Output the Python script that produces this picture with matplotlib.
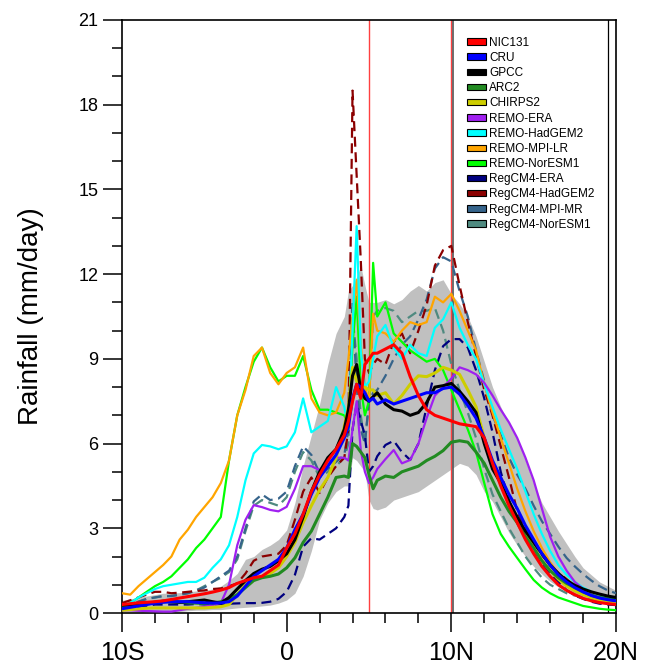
import numpy as np
import matplotlib
matplotlib.use("Agg")
import matplotlib.pyplot as plt
from matplotlib.patches import Patch

plt.rcParams['font.family'] = ['Liberation Sans', 'DejaVu Sans']

# latitude (deg, negative = S)
lat = [-10, -9.5, -9, -8.5, -8, -7.5, -7, -6.5, -6, -5.5, -5, -4.5, -4, -3.5,
       -3, -2.5, -2, -1.5, -1, -0.5,
       0, 0.5, 1, 1.5, 2, 2.5, 3, 3.5, 3.75, 4, 4.25, 4.5, 4.75, 5, 5.25, 5.5,
       6, 6.5, 7, 7.5, 8, 8.5, 9, 9.5, 10, 10.5, 11, 11.5, 12, 12.5, 13, 13.5,
       14, 14.5, 15, 15.5, 16, 16.5, 17, 17.5, 18, 18.5, 19, 19.5, 20]

# observations
nic131 = [0.30, 0.33, 0.36, 0.38, 0.40, 0.43, 0.48, 0.53, 0.58, 0.63, 0.68, 0.74, 0.81, 0.90, 1.05, 1.15, 1.25, 1.30, 1.50, 1.70,
          2.30, 2.80, 3.50, 4.30, 4.90, 5.40, 5.80, 6.30, 6.80, 7.50, 8.10, 7.60, 8.80, 9.00, 9.20, 9.20,
          9.35, 9.50, 9.20, 8.37, 7.70, 7.20, 7.00, 6.90, 6.80, 6.70, 6.65, 6.60, 6.20, 5.30, 4.50, 3.80, 3.20, 2.60, 2.10,
          1.65, 1.30, 1.00, 0.80, 0.65, 0.52, 0.43, 0.37, 0.33, 0.30]
cru = [0.15, 0.20, 0.25, 0.30, 0.35, 0.38, 0.40, 0.40, 0.40, 0.38, 0.36, 0.35, 0.36, 0.40, 0.60, 0.95, 1.30, 1.50, 1.70, 1.90,
       2.30, 2.95, 3.50, 4.20, 4.80, 5.20, 5.60, 6.20, 6.60, 7.60, 8.10, 8.00, 7.80, 7.50, 7.60, 7.40,
       7.55, 7.40, 7.50, 7.60, 7.70, 7.80, 7.80, 7.95, 8.00, 7.75, 7.35, 6.90, 6.20, 5.40, 4.80, 4.20, 3.70, 3.10, 2.60,
       2.10, 1.70, 1.35, 1.10, 0.90, 0.75, 0.62, 0.53, 0.47, 0.43]
gpcc = [0.28, 0.30, 0.33, 0.35, 0.38, 0.42, 0.40, 0.38, 0.40, 0.43, 0.46, 0.40, 0.35, 0.55, 0.85, 1.15, 1.40, 1.55, 1.65, 1.85,
        2.10, 2.60, 3.40, 4.30, 5.00, 5.50, 5.80, 6.50, 7.20, 8.40, 8.80, 7.90, 7.60, 7.50, 7.66, 7.80,
        7.40, 7.20, 7.15, 7.00, 7.10, 7.45, 8.00, 8.05, 8.13, 7.85, 7.50, 7.10, 6.00, 5.10, 4.60, 3.95, 3.40, 2.90, 2.50,
        2.10, 1.70, 1.40, 1.15, 0.98, 0.85, 0.75, 0.67, 0.60, 0.55]
arc2 = [0.20, 0.25, 0.30, 0.35, 0.38, 0.40, 0.40, 0.38, 0.36, 0.35, 0.34, 0.35, 0.40, 0.50, 0.65, 0.90, 1.15, 1.25, 1.30, 1.38,
        1.60, 1.95, 2.50, 2.90, 3.50, 4.10, 4.80, 4.85, 4.80, 6.00, 5.90, 5.70, 5.50, 4.90, 4.40, 4.70,
        4.85, 4.80, 5.00, 5.10, 5.20, 5.40, 5.55, 5.75, 6.05, 6.10, 6.05, 5.70, 5.30, 4.70, 4.10, 3.60, 3.20, 2.70, 2.30,
        1.85, 1.50, 1.25, 1.05, 0.90, 0.75, 0.63, 0.55, 0.50, 0.46]
chirps2 = [0.10, 0.12, 0.15, 0.17, 0.18, 0.18, 0.18, 0.18, 0.18, 0.18, 0.18, 0.20, 0.22, 0.30, 0.65, 1.00, 1.20, 1.30, 1.40, 1.60,
           2.00, 2.50, 3.20, 3.80, 4.36, 4.80, 5.50, 6.60, 7.30, 8.70, 8.20, 7.70, 8.00, 7.90, 7.90, 7.70,
           7.80, 7.40, 7.70, 8.10, 8.40, 8.37, 8.50, 8.70, 8.60, 8.45, 7.90, 7.30, 6.20, 5.20, 4.60, 3.90, 3.30, 2.80, 2.30,
           1.85, 1.50, 1.20, 0.95, 0.78, 0.65, 0.55, 0.48, 0.43, 0.40]

# models
remo_era = [0.10, 0.10, 0.08, 0.07, 0.06, 0.05, 0.05, 0.10, 0.15, 0.18, 0.22, 0.28, 0.35, 1.00, 2.40, 3.30, 3.82, 3.75, 3.65, 3.60,
            3.76, 4.40, 5.20, 5.20, 5.06, 5.35, 5.50, 5.50, 5.40, 6.50, 7.50, 5.77, 5.00, 4.60, 4.80, 5.10,
            5.45, 5.77, 5.30, 5.42, 6.00, 6.90, 7.70, 8.00, 8.30, 8.70, 8.60, 8.45, 8.15, 7.70, 7.20, 6.75, 6.20, 5.50, 4.70,
            3.70, 2.70, 2.00, 1.50, 1.10, 0.85, 0.65, 0.52, 0.45, 0.40]
remo_hadgem2 = [0.25, 0.35, 0.55, 0.70, 0.85, 0.95, 1.00, 1.05, 1.10, 1.10, 1.25, 1.60, 1.90, 2.40, 3.40, 4.70, 5.65, 5.95, 5.90, 5.80,
                5.90, 6.40, 7.60, 6.40, 6.60, 6.80, 8.00, 7.30, 6.50, 10.00, 13.70, 9.30, 8.00, 8.20, 9.00, 9.80,
                10.20, 9.40, 9.00, 9.50, 9.20, 9.10, 10.10, 10.40, 11.00, 10.10, 9.50, 9.00, 8.10, 7.30, 6.50, 5.80, 5.10, 4.30, 3.50,
                2.80, 2.20, 1.70, 1.35, 1.10, 0.90, 0.75, 0.65, 0.55, 0.50]
remo_mpi_lr = [0.70, 0.65, 0.95, 1.20, 1.45, 1.70, 2.00, 2.60, 2.95, 3.40, 3.75, 4.10, 4.60, 5.40, 7.00, 7.90, 9.10, 9.40, 8.50, 8.10,
               8.50, 8.70, 9.40, 7.60, 7.10, 7.00, 7.10, 7.80, 9.00, 10.50, 11.80, 9.50, 8.00, 7.50, 10.60, 10.00,
               9.90, 9.60, 10.00, 10.30, 10.20, 10.30, 11.20, 11.00, 11.30, 10.70, 10.00, 9.30, 8.10, 7.10, 6.20, 5.30, 4.40, 3.60, 2.90,
               2.30, 1.80, 1.40, 1.10, 0.85, 0.70, 0.55, 0.45, 0.40, 0.35]
remo_noresm1 = [0.20, 0.35, 0.55, 0.75, 0.95, 1.10, 1.30, 1.60, 1.90, 2.30, 2.60, 3.00, 3.40, 5.40, 7.00, 8.00, 8.90, 9.40, 8.70, 8.20,
                8.40, 8.40, 9.10, 7.90, 7.20, 7.20, 7.10, 7.00, 6.60, 9.50, 11.20, 8.00, 7.00, 7.50, 12.40, 10.50,
                11.00, 9.90, 9.60, 9.30, 9.10, 8.90, 9.00, 8.60, 7.90, 7.20, 6.50, 5.70, 4.60, 3.50, 2.80, 2.35, 1.95, 1.55, 1.17,
                0.90, 0.70, 0.55, 0.45, 0.35, 0.25, 0.20, 0.15, 0.12, 0.10]
regcm_era = [0.10, 0.15, 0.20, 0.25, 0.30, 0.30, 0.30, 0.30, 0.30, 0.32, 0.30, 0.30, 0.32, 0.33, 0.34, 0.35, 0.35, 0.36, 0.40, 0.50,
             0.75, 1.35, 2.35, 2.65, 2.60, 2.80, 3.00, 3.40, 3.80, 6.50, 7.40, 6.80, 6.30, 5.00, 5.20, 5.55,
             5.95, 6.10, 5.70, 5.42, 6.00, 7.30, 8.60, 9.45, 9.70, 9.70, 9.40, 8.60, 7.60, 6.40, 5.00, 4.00, 3.20, 2.70, 2.20,
             1.75, 1.40, 1.10, 0.81, 0.62, 0.50, 0.40, 0.33, 0.30, 0.28]
regcm_hadgem2 = [0.35, 0.45, 0.55, 0.65, 0.75, 0.75, 0.70, 0.72, 0.75, 0.78, 0.80, 0.85, 0.87, 0.95, 1.05, 1.40, 1.85, 2.00, 2.05, 2.10,
                 2.40, 3.30, 4.30, 4.80, 4.25, 4.80, 5.20, 5.50, 6.50, 18.50, 15.50, 12.50, 9.00, 8.50, 8.80, 9.00,
                 8.80, 9.60, 9.90, 9.20, 10.00, 10.90, 12.30, 12.85, 13.00, 11.60, 10.30, 9.10, 7.90, 7.00, 5.90, 4.80, 3.60, 3.00, 2.50,
                 2.05, 1.70, 1.42, 1.20, 0.95, 0.78, 0.60, 0.50, 0.42, 0.38]
regcm_mpi_mr = [0.20, 0.30, 0.40, 0.50, 0.55, 0.60, 0.60, 0.65, 0.70, 0.80, 0.90, 1.10, 1.30, 1.50, 2.00, 3.00, 3.95, 4.20, 4.00, 4.05,
                4.30, 5.20, 5.90, 5.60, 4.95, 5.10, 5.35, 5.60, 6.50, 11.00, 8.00, 6.50, 6.00, 7.50, 7.80, 7.90,
                8.40, 9.00, 9.50, 9.80, 10.40, 11.10, 12.20, 12.60, 12.45, 11.40, 10.50, 9.30, 8.20, 7.00, 6.30, 5.50, 4.90, 4.40, 3.80,
                3.25, 2.80, 2.35, 1.95, 1.65, 1.38, 1.15, 0.95, 0.80, 0.70]
regcm_noresm1 = [0.20, 0.30, 0.40, 0.50, 0.55, 0.60, 0.60, 0.65, 0.70, 0.80, 0.95, 1.10, 1.25, 1.45, 1.90, 2.90, 3.80, 4.00, 3.90, 3.80,
                 4.10, 5.00, 5.70, 5.40, 4.80, 5.00, 5.20, 5.50, 6.00, 10.50, 9.00, 7.00, 6.00, 7.50, 10.50, 10.70,
                 10.80, 10.70, 10.30, 10.50, 10.70, 10.70, 10.80, 10.00, 8.80, 7.90, 7.10, 6.20, 5.10, 4.20, 3.60, 3.00, 2.50, 2.00, 1.60,
                 1.25, 1.00, 0.85, 0.70, 0.62, 0.55, 0.50, 0.45, 0.42, 0.40]

# grey spread band
band_lo = [0.05, 0.05, 0.05, 0.05, 0.05, 0.05, 0.05, 0.05, 0.08, 0.10, 0.10, 0.12, 0.12, 0.15, 0.18, 0.20, 0.22, 0.25, 0.28, 0.35,
           0.46, 0.70, 1.30, 2.20, 3.30, 3.90, 4.30, 4.50, 4.50, 5.50, 5.40, 5.20, 5.00, 4.00, 3.70, 3.65,
           3.75, 4.00, 4.10, 4.20, 4.30, 4.50, 4.70, 4.90, 5.10, 5.30, 5.20, 4.90, 4.30, 3.95, 3.40, 2.85, 2.40, 2.00, 1.65,
           1.38, 1.12, 0.92, 0.78, 0.65, 0.55, 0.47, 0.41, 0.36, 0.33]
band_hi = [0.45, 0.50, 0.55, 0.60, 0.65, 0.70, 0.70, 0.72, 0.75, 0.78, 0.80, 0.85, 0.95, 1.15, 1.40, 1.90, 2.00, 2.25, 2.40, 2.60,
           2.94, 3.90, 5.20, 6.30, 7.40, 8.80, 9.90, 10.50, 11.40, 11.60, 11.90, 12.30, 11.60, 11.00, 11.00, 11.00,
           11.10, 10.95, 11.10, 11.40, 11.60, 11.40, 11.70, 11.80, 11.30, 10.95, 10.50, 9.80, 8.90, 8.00, 7.30, 6.70, 6.20, 5.40, 4.60,
           3.90, 3.40, 2.90, 2.45, 2.00, 1.60, 1.35, 1.10, 0.95, 0.80]

names = ['NIC131', 'CRU', 'GPCC', 'ARC2', 'CHIRPS2', 'REMO-ERA', 'REMO-HadGEM2',
         'REMO-MPI-LR', 'REMO-NorESM1', 'RegCM4-ERA', 'RegCM4-HadGEM2',
         'RegCM4-MPI-MR', 'RegCM4-NorESM1']
series = [nic131, cru, gpcc, arc2, chirps2, remo_era, remo_hadgem2,
          remo_mpi_lr, remo_noresm1, regcm_era, regcm_hadgem2,
          regcm_mpi_mr, regcm_noresm1]
colors = ['#ff0000', '#0000ff', '#000000', '#228b22', '#cdcd00', '#a020f0',
          '#00ffff', '#ffa500', '#00ff00', '#000080', '#8b0000',
          '#36648b', '#4f8a80']
n_obs = 5

fig = plt.figure(figsize=(6.51, 6.68), dpi=100)
ax = fig.add_axes([122/651, 55/668, 494/651, 593/668])

ax.fill_between(lat, band_lo, band_hi, color='#c0c0c0', lw=0, zorder=1)

ax.axvline(5, color='#ff4040', lw=1.0, zorder=2)
ax.axvline(10, color='#ff4040', lw=1.0, zorder=2)
ax.axvline(10.1, color='#555555', lw=1.2, zorder=2)
ax.axvline(19.5, color='black', lw=0.9, zorder=2)

# models first (dashed for RegCM4), observations on top
for i in range(len(names) - 1, n_obs - 1, -1):
    ls = (0, (4.5, 2.5)) if names[i].startswith('RegCM4') else '-'
    ax.plot(lat, series[i], color=colors[i], lw=1.6, ls=ls, zorder=3)
for i in range(n_obs - 1, -1, -1):
    ax.plot(lat, series[i], color=colors[i], lw=2.2, zorder=4)

ax.set_xlim(-10, 20)
ax.set_ylim(0, 21)
ax.set_xticks([-10, 0, 10, 20])
ax.set_xticklabels(['10S', '0', '10N', '20N'], fontsize=18)
ax.set_xticks(np.arange(-10, 21, 2), minor=True)
ax.set_yticks(np.arange(0, 22, 3))
ax.set_yticks(np.arange(0, 22, 1), minor=True)
ax.tick_params(axis='y', labelsize=13)
ax.tick_params(which='major', length=14, width=1.1, direction='out', pad=3)
ax.tick_params(which='minor', length=7, width=1.1, direction='out')
ax.tick_params(axis='x', which='major', pad=6)
for s in ax.spines.values():
    s.set_linewidth(1.2)

ax.set_ylabel('Rainfall (mm/day)', fontsize=20)
ax.yaxis.set_label_coords(-0.158, 0.5)

handles = [Patch(facecolor=c, edgecolor='black', lw=0.8, label=n)
           for n, c in zip(names, colors)]
ax.legend(handles=handles, loc='upper left', bbox_to_anchor=(0.698, 0.972),
          frameon=False, fontsize=8.5, handlelength=1.6, handleheight=0.45,
          handletextpad=0.3, labelspacing=0.27, borderpad=0, borderaxespad=0)

fig.savefig('out.png', dpi=100)
